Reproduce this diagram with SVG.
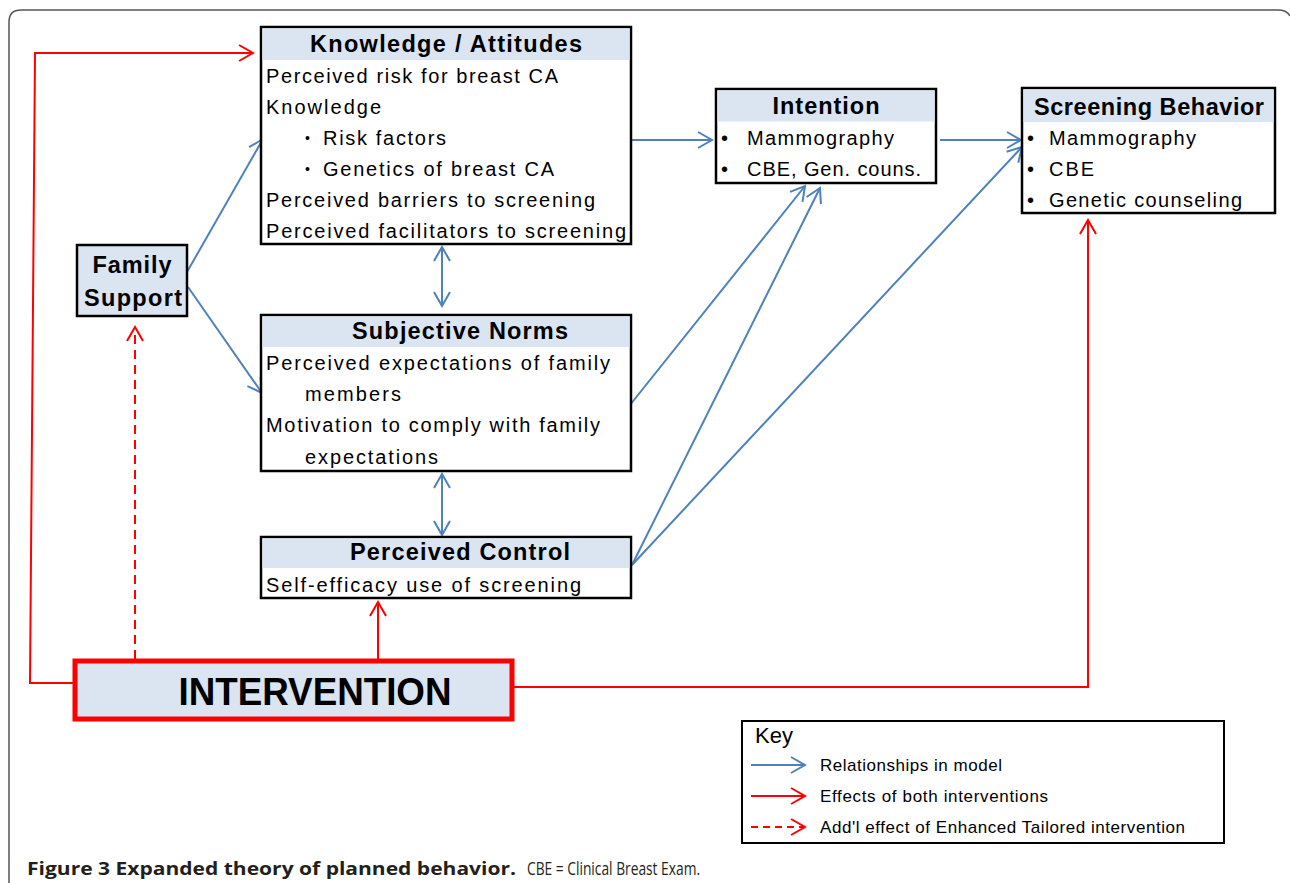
<svg xmlns="http://www.w3.org/2000/svg" width="1290" height="883" viewBox="0 0 1290 883">
<style>
.box{fill:#fff;stroke:#000;stroke-width:2.5}
.band{fill:#dbe5f1}
.hdr{font-family:"Liberation Sans",Arial,sans-serif;font-weight:bold;font-size:23.5px;fill:#000;text-anchor:middle}
.txt{font-family:"Liberation Sans",Arial,sans-serif;font-size:20px;fill:#000}
.key{font-family:"Liberation Sans",Arial,sans-serif;font-size:17px;fill:#000}
.blue{fill:none;stroke:#4f81bd;stroke-width:2}
.red{fill:none;stroke:#ff0000;stroke-width:2}
.dash{stroke-dasharray:9 6}
.cap{font-family:"Open Sans","Liberation Sans",Arial,sans-serif;font-size:18.5px;fill:#231f20}
</style>
<defs>
<marker id="ab" viewBox="-16 -10 18 20" refX="0" refY="0" markerWidth="18" markerHeight="20" markerUnits="userSpaceOnUse" orient="auto-start-reverse">
<path d="M-14,-8 L0,0 L-14,8" fill="none" stroke="#4f81bd" stroke-width="2"/>
</marker>
<marker id="ar" viewBox="-16 -10 18 20" refX="0" refY="0" markerWidth="18" markerHeight="20" markerUnits="userSpaceOnUse" orient="auto-start-reverse">
<path d="M-14,-8 L0,0 L-14,8" fill="none" stroke="#ff0000" stroke-width="2"/>
</marker>
</defs>
<rect width="1290" height="883" fill="#fff"/>
<path d="M9,883 L9,22 Q9,10 21,10 L1278,10 Q1287,10 1290,16" fill="none" stroke="#555" stroke-width="1.5"/>

<g id="connectors">
<polyline class="red" points="75,683 30,683 35,53 253,53" marker-end="url(#ar)"/>
<line class="red dash" x1="135" y1="659" x2="135" y2="327" marker-end="url(#ar)"/>
<line class="red" x1="378" y1="659" x2="378" y2="602" marker-end="url(#ar)"/>
<polyline class="red" points="514,687 1088,687 1088,220" marker-end="url(#ar)"/>
<line class="blue" x1="187" y1="272" x2="263" y2="139" marker-end="url(#ab)"/>
<line class="blue" x1="188" y1="287" x2="262" y2="393" marker-end="url(#ab)"/>
<line class="blue" x1="627" y1="140" x2="712" y2="140" marker-end="url(#ab)"/>
<line class="blue" x1="940" y1="140" x2="1021" y2="140" marker-end="url(#ab)"/>
<line class="blue" x1="442" y1="247" x2="442" y2="306" marker-start="url(#ab)" marker-end="url(#ab)"/>
<line class="blue" x1="442" y1="474" x2="442" y2="535" marker-start="url(#ab)" marker-end="url(#ab)"/>
<line class="blue" x1="630" y1="405" x2="805" y2="186" marker-end="url(#ab)"/>
<line class="blue" x1="632" y1="565" x2="820" y2="188" marker-end="url(#ab)"/>
<line class="blue" x1="632" y1="565" x2="1022" y2="147" marker-end="url(#ab)"/>
</g>

<g id="knowledge">
<rect class="box" x="261" y="27" width="370" height="217"/>
<rect class="band" x="262.5" y="28.5" width="367" height="31.5"/>
<text class="hdr" x="446" y="52" textLength="272" lengthAdjust="spacing">Knowledge / Attitudes</text>
<text class="txt" x="266" y="83" textLength="292" lengthAdjust="spacing">Perceived risk for breast CA</text>
<text class="txt" x="266" y="114" textLength="115" lengthAdjust="spacing">Knowledge</text>
<text class="txt" x="305" y="143" style="font-size:14px">•</text>
<text class="txt" x="323" y="145" textLength="123" lengthAdjust="spacing">Risk factors</text>
<text class="txt" x="305" y="174" style="font-size:14px">•</text>
<text class="txt" x="323" y="176" textLength="231" lengthAdjust="spacing">Genetics of breast CA</text>
<text class="txt" x="266" y="207" textLength="329" lengthAdjust="spacing">Perceived barriers to screening</text>
<text class="txt" x="266" y="238" textLength="360" lengthAdjust="spacing">Perceived facilitators to screening</text>
</g>

<g id="intention">
<rect class="box" x="716" y="89" width="220" height="94"/>
<rect class="band" x="717.5" y="90.5" width="217" height="31"/>
<text class="hdr" x="826" y="114" textLength="107" lengthAdjust="spacing">Intention</text>
<text class="txt" x="721" y="145">•</text>
<text class="txt" x="747" y="145" textLength="147" lengthAdjust="spacing">Mammography</text>
<text class="txt" x="721" y="176">•</text>
<text class="txt" x="747" y="176" textLength="174" lengthAdjust="spacing">CBE, Gen. couns.</text>
</g>

<g id="screening">
<rect class="box" x="1022" y="88" width="253" height="125"/>
<rect class="band" x="1023.5" y="89.5" width="250" height="32.5"/>
<text class="hdr" x="1149" y="115" textLength="230" lengthAdjust="spacing">Screening Behavior</text>
<text class="txt" x="1027" y="145">•</text>
<text class="txt" x="1049" y="145" textLength="147" lengthAdjust="spacing">Mammography</text>
<text class="txt" x="1027" y="176">•</text>
<text class="txt" x="1049" y="176" textLength="45" lengthAdjust="spacing">CBE</text>
<text class="txt" x="1027" y="207">•</text>
<text class="txt" x="1049" y="207" textLength="193" lengthAdjust="spacing">Genetic counseling</text>
</g>

<g id="family-support">
<rect x="77" y="245" width="110" height="71" fill="#dbe5f1" stroke="#000" stroke-width="2.5"/>
<text class="hdr" x="132" y="273" textLength="79" lengthAdjust="spacing">Family</text>
<text class="hdr" x="133" y="306" textLength="98" lengthAdjust="spacing">Support</text>
</g>

<g id="subjective-norms">
<rect class="box" x="261" y="315" width="370" height="156"/>
<rect class="band" x="262.5" y="316.5" width="367" height="30.5"/>
<text class="hdr" x="460" y="339" textLength="216" lengthAdjust="spacing">Subjective Norms</text>
<text class="txt" x="266" y="370" textLength="344" lengthAdjust="spacing">Perceived expectations of family</text>
<text class="txt" x="305" y="401" textLength="96" lengthAdjust="spacing">members</text>
<text class="txt" x="266" y="432" textLength="334" lengthAdjust="spacing">Motivation to comply with family</text>
<text class="txt" x="305" y="464" textLength="133" lengthAdjust="spacing">expectations</text>
</g>

<g id="perceived-control">
<rect class="box" x="261" y="537" width="370" height="61"/>
<rect class="band" x="262.5" y="538.5" width="367" height="29.5"/>
<text class="hdr" x="460" y="560" textLength="220" lengthAdjust="spacing">Perceived Control</text>
<text class="txt" x="266" y="592" textLength="315" lengthAdjust="spacing">Self-efficacy use of screening</text>
</g>

<g id="intervention">
<rect x="75" y="661" width="437" height="58" fill="#dbe5f1" stroke="#ff0000" stroke-width="5"/>
<text class="hdr" x="315" y="705" style="font-size:38px" textLength="273" lengthAdjust="spacingAndGlyphs">INTERVENTION</text>
</g>

<g id="key">
<rect x="742" y="721" width="482" height="122" fill="#fff" stroke="#000" stroke-width="2"/>
<text class="txt" x="755" y="743" style="font-size:22px">Key</text>
<line class="blue" x1="751" y1="765" x2="805" y2="765" marker-end="url(#ab)"/>
<text class="key" x="820" y="771" textLength="182" lengthAdjust="spacing">Relationships in model</text>
<line class="red" x1="751" y1="796" x2="805" y2="796" marker-end="url(#ar)"/>
<text class="key" x="820" y="802" textLength="228" lengthAdjust="spacing">Effects of both interventions</text>
<line class="red dash" x1="751" y1="827" x2="805" y2="827" marker-end="url(#ar)" style="stroke-dasharray:7 5"/>
<text class="key" x="820" y="833" textLength="365" lengthAdjust="spacing">Add'l effect of Enhanced Tailored intervention</text>
</g>

<g id="caption">
<text class="cap" x="27" y="875" font-weight="bold" textLength="489" lengthAdjust="spacingAndGlyphs">Figure 3 Expanded theory of planned behavior.</text>
<text class="cap" x="527" y="875" textLength="173" lengthAdjust="spacingAndGlyphs">CBE = Clinical Breast Exam.</text>
</g>
</svg>
